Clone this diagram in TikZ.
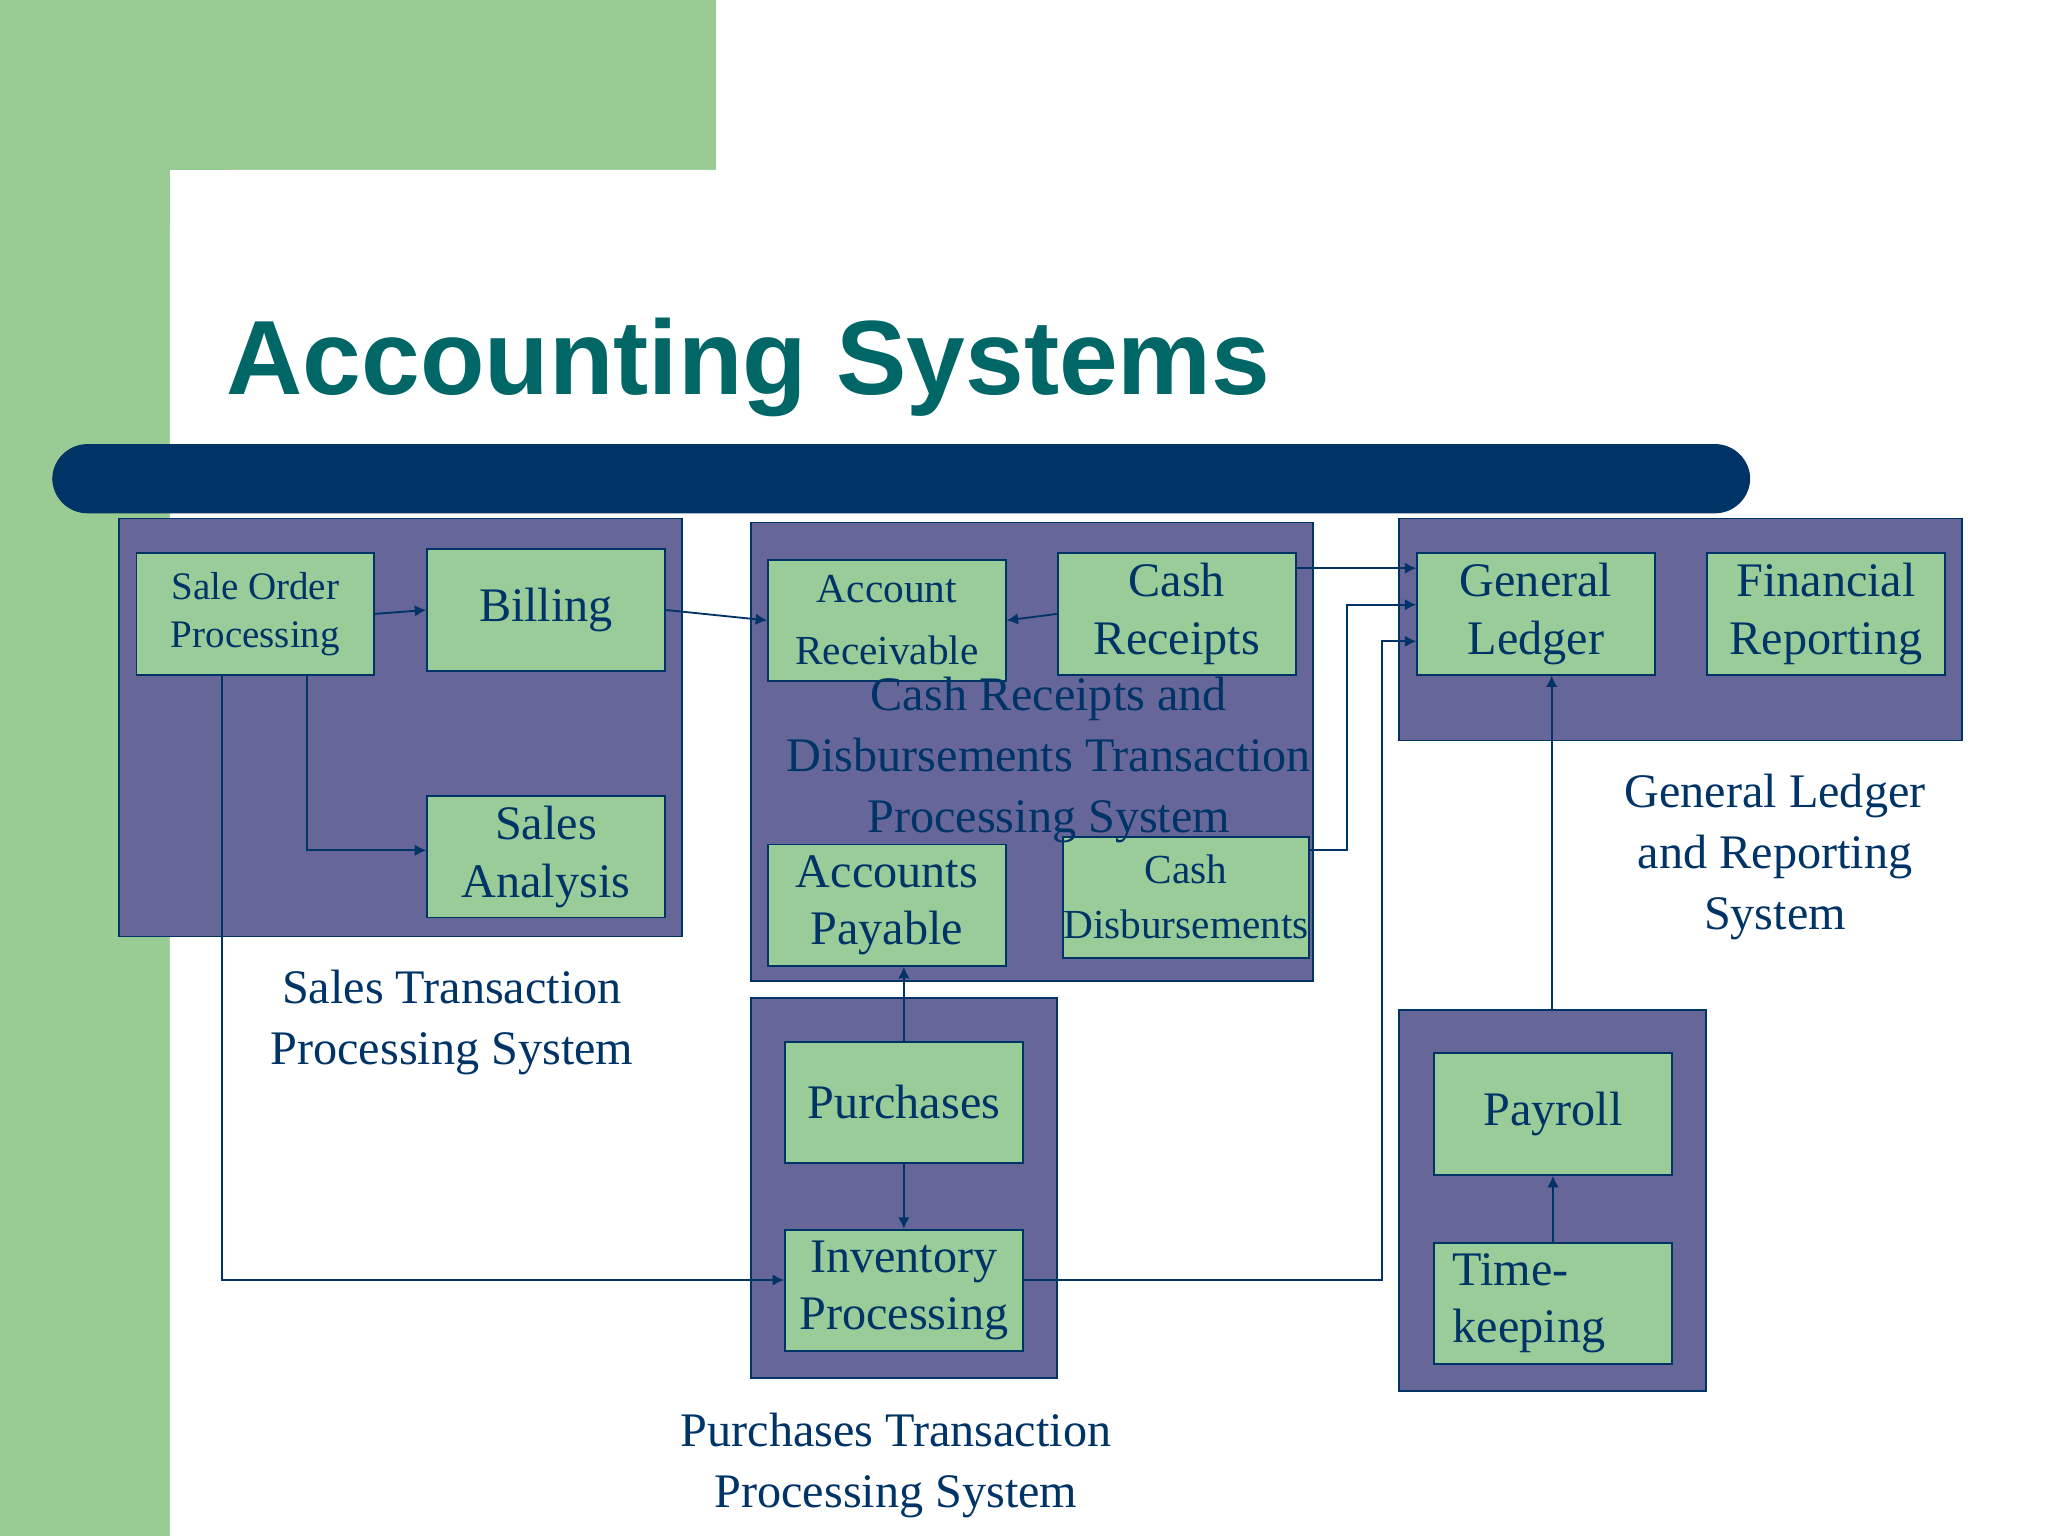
\documentclass[tikz,border=0pt]{standalone}
\usepackage{fontspec}
\setmainfont{Liberation Serif}
\setsansfont{Liberation Sans}
\usetikzlibrary{calc,arrows.meta}
\definecolor{bgg}{HTML}{99CC95}
\definecolor{navy}{HTML}{003366}
\definecolor{teal}{HTML}{006666}
\definecolor{grp}{HTML}{666699}
\definecolor{bx}{HTML}{99CC99}
\tikzset{
 grpbox/.style={draw=navy,fill=grp,line width=0.8pt},
 box/.style={draw=navy,fill=bx,line width=0.8pt,minimum width=3.64cm,minimum height=1.86cm,inner sep=0pt,text=navy,align=center,font=\fontsize{21}{25}\selectfont},
 lbl/.style={text=navy,align=center,font=\fontsize{21}{26.5}\selectfont},
 conn/.style={draw=navy,line width=0.8pt,-{Latex[length=5pt,width=5pt]}}
}
\begin{document}
\begin{tikzpicture}[x=0.02cm,y=-0.02cm]
\useasboundingbox (0,0) rectangle (1568,1176);
\fill[bgg] (0,0) rectangle (548,130);
\fill[bgg] (0,0) rectangle (130,1176);
\fill[white,rounded corners=1cm] (130,130) rectangle (1700,1300);
\node[anchor=base west,text=teal,font=\sffamily\bfseries\fontsize{46}{50}\selectfont,inner sep=0pt] (title) at (173,302) {Accounting Systems};
\fill[navy,rounded corners=0.54cm] (40,340) rectangle (1340,393);
\fill[navy] (1000,340) rectangle (1306,393);
% groups
\draw[grpbox] (91,397) rectangle (522,717);
\draw[grpbox] (575,400) rectangle (1005,751);
\draw[grpbox] (1071,397) rectangle (1502,567);
\draw[grpbox] (575,764) rectangle (809,1055);
\draw[grpbox] (1071,773) rectangle (1306,1065);
\coordinate (pgtop) at (1188,773);
% boxes
\node[box,font=\fontsize{17}{21}\selectfont] (sop) at (195.5,470) {Sale Order\\Processing};
\node[box] (bill) at (418,467) {Billing};
\node[box] (sa) at (418,656) {Sales\\Analysis};
\node[box,font=\fontsize{18}{27}\selectfont] (ar) at (679,475) {Account\\Receivable};
\node[box] (cr) at (901,470) {Cash\\Receipts};
\node[box] (ap) at (679,693) {Accounts\\Payable};
\node[box,font=\fontsize{18}{24}\selectfont] (cd) at (908,687) {Cash\\Disbursements};
\node[box] (gl) at (1176,470) {General\\Ledger};
\node[box] (fr) at (1398,470) {Financial\\Reporting};
\node[box] (pur) at (692,844) {Purchases};
\node[box] (inv) at (692,988) {Inventory\\Processing};
\node[box] (pay) at (1189,853) {Payroll};
\node[box,align=left] (time) at (1189,998) {Time-\\keeping~~~~~};
% labels
\node[lbl] (l1) at (803,582) {Cash Receipts and\\Disbursements Transaction\\Processing System};
\node[lbl] (l2) at (346,783) {Sales Transaction\\Processing System};
\node[lbl] (l3) at (686,1122) {Purchases Transaction\\Processing System};
\node[lbl] (l4) at (1359,656) {General Ledger\\and Reporting\\System};
% connectors
\draw[conn] (sop.east) -- (bill.west);
\draw[conn] (bill.east) -- (ar.west);
\draw[conn] (cr.west) -- (ar.east);
\draw[conn] (sop.south -| 235,0) -- (235,651) -- (sa.west |- 0,651);
\draw[conn] (sop.south -| 170,0) -- (170,980) -- (inv.west |- 0,980);
\draw[conn] (pur.south) -- (inv.north);
\draw[conn] (pur.north) -- (ap.south -| pur.north);
\draw[conn] (cr.east |- 0,435) -- (gl.west |- 0,435);
\draw[conn] (cd.east |- 0,651) -- (1031,651) -- (1031,463) -- (gl.west |- 0,463);
\draw[conn] (inv.east |- 0,980) -- (1058,980) -- (1058,491) -- (gl.west |- 0,491);
\draw[conn] (pgtop) -- (gl.south -| pgtop);
\draw[conn] (time.north) -- (pay.south);
\end{tikzpicture}
\end{document}
